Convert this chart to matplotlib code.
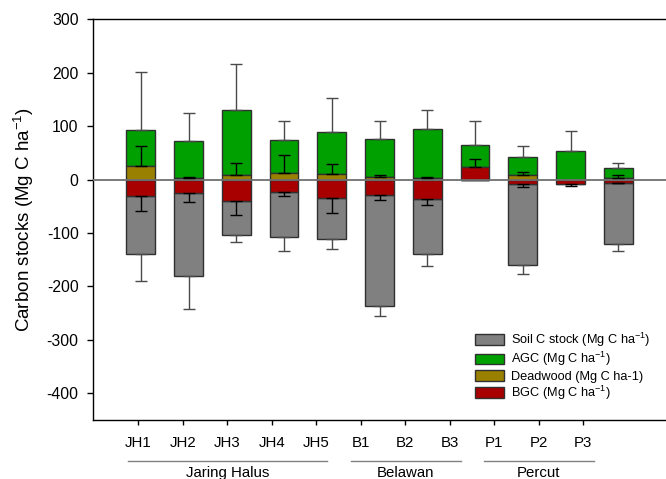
import numpy as np
import matplotlib
matplotlib.use("Agg")
import matplotlib.pyplot as plt
from matplotlib.patches import Patch
from matplotlib.transforms import blended_transform_factory

plt.rcParams['font.family'] = ['Liberation Sans', 'DejaVu Sans']
plt.rcParams['mathtext.default'] = 'regular'
plt.rcParams['axes.unicode_minus'] = False

# sites and their groups
sites = ['JH1', 'JH2', 'JH3', 'JH4', 'JH5', 'B1', 'B2', 'B3', 'P1', 'P2', 'P3']
groups = ['Jaring Halus', 'Belawan', 'Percut']
group_sizes = [5, 3, 3]

# carbon pools (Mg C ha-1)
deadwood = np.array([25.5, 2.5, 9.4, 13.0, 10.5, 5.0, 2.5, 0.0, 9.4, 0.0, 3.7])
deadwood_err = np.array([36.5, 2.5, 21.0, 32.6, 19.5, 4.4, 1.5, 0.0, 5.6, 0.0, 5.7])
agc = np.array([67.0, 70.5, 120.0, 62.0, 78.0, 70.6, 91.5, 41.2, 33.0, 53.0, 18.8])
agc_err = np.array([109.5, 52.0, 86.5, 34.0, 64.0, 33.5, 36.6, 43.4, 20.6, 38.0, 8.5])
# BGC is drawn below zero, except B3 which the source plots upward
bgc = np.array([-30.0, -26.0, -41.0, -24.0, -34.0, -28.0, -36.0, 24.4, -8.8, -7.5, -5.6])
bgc_err = np.array([29.0, 16.5, 25.0, 6.0, 29.0, 11.0, 11.6, 13.6, 5.7, 4.5, 1.4])
soil = np.array([-109.0, -154.0, -63.5, -83.6, -78.0, -209.0, -103.0, 0.0, -151.0, 0.0, -115.4])
soil_err = np.array([50.0, 63.0, 11.5, 26.4, 17.0, 19.0, 23.0, 0.0, 17.7, 0.0, 13.5])

c_soil = '#808080'
c_agc = '#00a000'
c_dw = '#9a8000'
c_bgc = '#a80000'
edge = '#303030'

fig = plt.figure(figsize=(6.66, 4.79), dpi=100)
rect = [93 / 666, 59 / 479, 573 / 666, 400.7 / 479]
ax = fig.add_axes(rect)

x = np.arange(len(sites))
w = 0.6
pos_base = np.clip(bgc, 0, None)
neg_base = np.clip(bgc, None, 0)

ax.bar(x, soil, w, bottom=neg_base, color=c_soil, edgecolor=edge, lw=1, zorder=2)
ax.bar(x, agc, w, bottom=deadwood + pos_base, color=c_agc, edgecolor=edge, lw=1, zorder=2)
ax.bar(x, deadwood, w, color=c_dw, edgecolor=edge, lw=1, zorder=2)
ax.bar(x, bgc, w, color=c_bgc, edgecolor=edge, lw=1, zorder=2)

ax.axhline(0, color='#707070', lw=1.3, zorder=3)

ekw = dict(fmt='none', capsize=4.3, elinewidth=1, capthick=1, zorder=4)
# outer whiskers
top = deadwood + pos_base + agc
ax.errorbar(x, top, yerr=[np.zeros_like(top), agc_err], ecolor='#4a4a4a', **ekw)
m = soil < 0
bottom = (neg_base + soil)[m]
ax.errorbar(x[m], bottom, yerr=[soil_err[m], np.zeros(m.sum())], ecolor='#4a4a4a', **ekw)
# inner whiskers
m = deadwood_err > 0
ax.errorbar(x[m], deadwood[m], yerr=[np.zeros(m.sum()), deadwood_err[m]], ecolor='black', **ekw)
lo = np.where(bgc < 0, bgc_err, 0)
hi = np.where(bgc > 0, bgc_err, 0)
ax.errorbar(x, bgc, yerr=[lo, hi], ecolor='black', **ekw)

ax.set_xlim(-1, 11)
ax.set_ylim(-450, 300)
ax.set_yticks(np.arange(-400, 301, 100))
ax.set_xticks([])
ax.tick_params(axis='y', direction='out', length=4.3, width=1, pad=6, labelsize=11.3)
ax.spines['right'].set_visible(False)
for s in ['left', 'bottom', 'top']:
    ax.spines[s].set_linewidth(1)
ax.set_ylabel('Carbon stocks (Mg C ha$^{-1}$)', fontsize=13.5, labelpad=8)

# site labels sit on their own evenly spaced scale
ax_lab = ax.twiny()
ax_lab.set_xlim(-1.02, 11.86)
ax_lab.set_xticks(x)
ax_lab.set_xticklabels(sites)
ax_lab.xaxis.set_ticks_position('bottom')
ax_lab.xaxis.set_label_position('bottom')
ax_lab.tick_params(axis='x', direction='out', length=3.6, width=1, pad=8, labelsize=10.8)
for s in ax_lab.spines.values():
    s.set_visible(False)

trans = blended_transform_factory(ax_lab.transData, ax_lab.transAxes)
start = 0
for name, n in zip(groups, group_sizes):
    a, b = start, start + n - 1
    ax_lab.plot([a - 0.23, b + 0.25], [-0.102, -0.102], transform=trans,
                color='#808080', lw=1, clip_on=False)
    ax_lab.text((a + b) / 2, -0.1415, name, transform=trans, ha='center',
                va='baseline', fontsize=10.8)
    start += n

handles = [
    Patch(facecolor=c_soil, edgecolor=edge, label='Soil C stock (Mg C ha$^{-1}$)'),
    Patch(facecolor=c_agc, edgecolor=edge, label='AGC (Mg C ha$^{-1}$)'),
    Patch(facecolor=c_dw, edgecolor=edge, label='Deadwood (Mg C ha-1)'),
    Patch(facecolor=c_bgc, edgecolor=edge, label='BGC (Mg C ha$^{-1}$)'),
]
fig.legend(handles=handles, loc='lower left', bbox_to_anchor=(475 / 666, 77 / 479),
           frameon=False, fontsize=9.2, handlelength=2.3, handleheight=0.93,
           handletextpad=0.55, labelspacing=0.1, borderpad=0, borderaxespad=0)

fig.savefig('out.png', dpi=100)
